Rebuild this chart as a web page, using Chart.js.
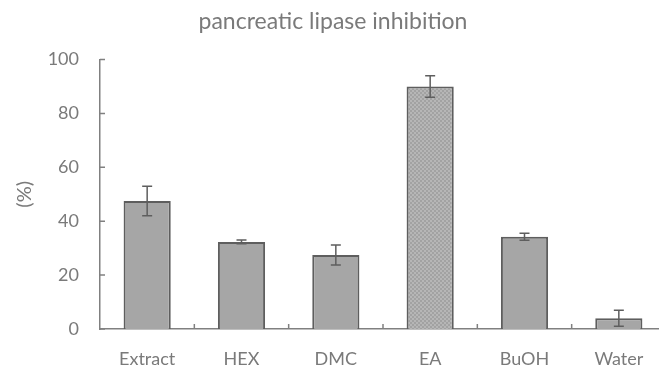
<!DOCTYPE html>
<html>
<head>
<meta charset="utf-8">
<script src="https://cdn.jsdelivr.net/npm/chart.js@4/dist/chart.umd.min.js"></script>
<style>
  html, body { margin: 0; padding: 0; background: #fff; overflow: hidden; }
  #chart { display: block; }
</style>
</head>
<body>
<canvas id="chart" width="666" height="369"></canvas>
<script>
// Data
const categories = ['Extract', 'HEX', 'DMC', 'EA', 'BuOH', 'Water'];
const inhibition = [47.5, 32.3, 27.5, 90, 34.2, 4];
const errors = [5.5, 0.7, 3.7, 4, 1.3, 3];
const yTicks = [0, 20, 40, 60, 80, 100];

// Checker pattern for the EA bar
function checker() {
    let c = document.createElement('canvas');
    c.width = 4;
    c.height = 4;
    let g = c.getContext('2d');
    g.fillStyle = '#b6b6b6';
    g.fillRect(0, 0, 4, 4);
    g.fillStyle = '#a2a2a2';
    g.fillRect(0, 0, 2, 2);
    g.fillRect(2, 2, 2, 2);
    return g.createPattern(c, 'repeat');
}

const fills = categories.map(c => c === 'EA' ? checker() : '#a6a6a6');
const textColor = '#7a7a7a';

// error bars and inward ticks
const extras = {
    id: 'extras',
    afterDatasetsDraw(chart) {
        const ctx = chart.ctx;
        const x = chart.scales.x;
        const y = chart.scales.y;
        const meta = chart.getDatasetMeta(0);
        ctx.save();
        ctx.strokeStyle = '#5e5e5e';
        ctx.lineWidth = 1.5;
        meta.data.forEach((bar, i) => {
            const top = y.getPixelForValue(inhibition[i] + errors[i]);
            const bot = y.getPixelForValue(inhibition[i] - errors[i]);
            ctx.beginPath();
            ctx.moveTo(bar.x, top);
            ctx.lineTo(bar.x, bot);
            ctx.moveTo(bar.x - 5, top);
            ctx.lineTo(bar.x + 5, top);
            ctx.moveTo(bar.x - 5, bot);
            ctx.lineTo(bar.x + 5, bot);
            ctx.stroke();
        });
        ctx.strokeStyle = '#808080';
        ctx.lineWidth = 1.5;
        ctx.beginPath();
        yTicks.forEach(v => {
            const py = y.getPixelForValue(v);
            ctx.moveTo(x.left, py);
            ctx.lineTo(x.left + 5, py);
        });
        const step = (x.right - x.left) / categories.length;
        for (let i = 1; i < categories.length; i++) {
            const px = x.left + step * i;
            ctx.moveTo(px, y.bottom);
            ctx.lineTo(px, y.bottom - 5);
        }
        ctx.stroke();
        ctx.restore();
    }
};

new Chart(document.getElementById('chart'), {
    type: 'bar',
    data: {
        labels: categories,
        datasets: [{
            data: inhibition,
            backgroundColor: fills,
            borderColor: '#5e5e5e',
            borderWidth: 2,
            barPercentage: 0.5,
            categoryPercentage: 1
        }]
    },
    options: {
        responsive: false,
        animation: false,
        layout: { padding: 0 },
        plugins: {
            legend: { display: false },
            tooltip: { enabled: false },
            title: {
                display: true,
                text: 'pancreatic lipase inhibition',
                color: textColor,
                font: { family: 'Lato', size: 23, weight: 'normal' },
                padding: { top: 8, bottom: 24 }
            }
        },
        scales: {
            x: {
                grid: { display: false },
                border: { display: true, color: '#808080', width: 1.5 },
                ticks: {
                    color: textColor,
                    font: { family: 'Lato', size: 18 },
                    padding: 11,
                    maxRotation: 0
                },
                afterFit(scale) { scale.height = 40; }
            },
            y: {
                min: 0,
                max: 100,
                grid: { display: false, drawTicks: false },
                border: { display: true, color: '#808080', width: 1.5 },
                ticks: {
                    stepSize: 20,
                    color: textColor,
                    font: { family: 'Lato', size: 18 },
                    padding: 21
                },
                title: {
                    display: true,
                    text: '(%)',
                    color: textColor,
                    font: { family: 'Lato', size: 20 },
                    padding: { top: 13, bottom: 0 }
                },
                afterFit(scale) { scale.width = 100; }
            }
        }
    },
    plugins: [extras]
});
</script>
</body>
</html>
